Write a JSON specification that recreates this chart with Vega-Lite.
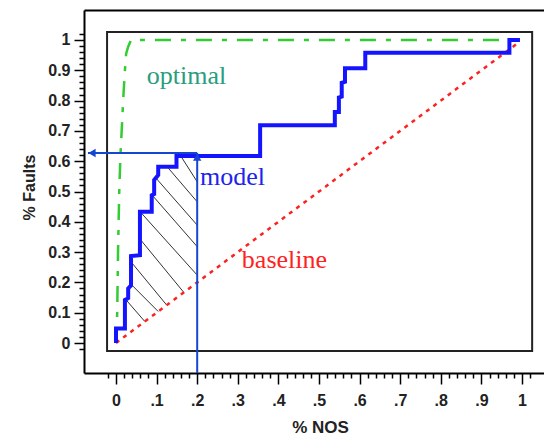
{
  "$schema": "https://vega.github.io/schema/vega-lite/v6.json",
  "autosize": "none",
  "width": 460,
  "height": 363,
  "padding": {"left": 84, "top": 10, "right": 0, "bottom": 62},
  "background": "white",
  "config": {"view": {"stroke": null}},
  "datasets": {
    "box": [{"x": -0.022, "x2": 1.025, "y": -0.026, "y2": 1.026}],
    "optimal": [
      {"i": 0, "x": 0, "y": 0}, {"i": 1, "x": 0.003, "y": 0.1}, {"i": 2, "x": 0.005, "y": 0.3},
      {"i": 3, "x": 0.008, "y": 0.5}, {"i": 4, "x": 0.011, "y": 0.62}, {"i": 5, "x": 0.014, "y": 0.7},
      {"i": 6, "x": 0.018, "y": 0.81}, {"i": 7, "x": 0.022, "y": 0.9}, {"i": 8, "x": 0.025, "y": 0.955},
      {"i": 9, "x": 0.03, "y": 0.978}, {"i": 10, "x": 0.037, "y": 1.0}, {"i": 11, "x": 0.995, "y": 1.0}
    ],
    "model": [
      {"i": 0, "x": 0, "y": 0}, {"i": 1, "x": 0, "y": 0.048}, {"i": 2, "x": 0.022, "y": 0.048},
      {"i": 3, "x": 0.022, "y": 0.142}, {"i": 4, "x": 0.03, "y": 0.148}, {"i": 5, "x": 0.03, "y": 0.18},
      {"i": 6, "x": 0.037, "y": 0.19}, {"i": 7, "x": 0.037, "y": 0.287}, {"i": 8, "x": 0.059, "y": 0.29},
      {"i": 9, "x": 0.059, "y": 0.433}, {"i": 10, "x": 0.088, "y": 0.433}, {"i": 11, "x": 0.088, "y": 0.488},
      {"i": 12, "x": 0.094, "y": 0.492}, {"i": 13, "x": 0.094, "y": 0.538}, {"i": 14, "x": 0.104, "y": 0.554},
      {"i": 15, "x": 0.104, "y": 0.582}, {"i": 16, "x": 0.149, "y": 0.582}, {"i": 17, "x": 0.149, "y": 0.617},
      {"i": 18, "x": 0.355, "y": 0.617}, {"i": 19, "x": 0.355, "y": 0.719}, {"i": 20, "x": 0.539, "y": 0.719},
      {"i": 21, "x": 0.539, "y": 0.762}, {"i": 22, "x": 0.549, "y": 0.762}, {"i": 23, "x": 0.549, "y": 0.81},
      {"i": 24, "x": 0.556, "y": 0.813}, {"i": 25, "x": 0.556, "y": 0.859}, {"i": 26, "x": 0.564, "y": 0.862},
      {"i": 27, "x": 0.564, "y": 0.907}, {"i": 28, "x": 0.614, "y": 0.907}, {"i": 29, "x": 0.614, "y": 0.958},
      {"i": 30, "x": 0.969, "y": 0.958}, {"i": 31, "x": 0.969, "y": 1.0}, {"i": 32, "x": 0.995, "y": 1.0}
    ],
    "baseline": [{"x": 0, "y": 0}, {"x": 0.99, "y": 0.99}],
    "hatch": [
      {"x": 0.162, "y": 0.612, "x2": 0.2, "y2": 0.532},
      {"x": 0.129, "y": 0.577, "x2": 0.2, "y2": 0.466},
      {"x": 0.098, "y": 0.545, "x2": 0.2, "y2": 0.389},
      {"x": 0.091, "y": 0.485, "x2": 0.2, "y2": 0.318},
      {"x": 0.063, "y": 0.428, "x2": 0.2, "y2": 0.224},
      {"x": 0.061, "y": 0.34, "x2": 0.167, "y2": 0.167},
      {"x": 0.04, "y": 0.263, "x2": 0.125, "y2": 0.125},
      {"x": 0.04, "y": 0.19, "x2": 0.104, "y2": 0.104},
      {"x": 0.025, "y": 0.142, "x2": 0.071, "y2": 0.071}
    ],
    "arrows": [
      {"dir": "left", "x": 0.2, "y": 0.627, "x2": -0.069, "y2": 0.627},
      {"dir": "up", "x": 0.2, "y": -0.099, "x2": 0.2, "y2": 0.627}
    ],
    "labels": [
      {"series": "optimal", "x": 0.076, "y": 0.855, "text": "optimal"},
      {"series": "model", "x": 0.207, "y": 0.521, "text": "model"},
      {"series": "baseline", "x": 0.31, "y": 0.2475, "text": "baseline"}
    ]
  },
  "resolve": {"axis": {"x": "independent", "y": "independent"}},
  "layer": [
    {
      "data": {"name": "box"},
      "mark": {"type": "rect", "fill": null, "stroke": "#222222", "strokeWidth": 2},
      "encoding": {
        "x": {"field": "x", "type": "quantitative",
          "scale": {"domain": [-0.0788, 1.0542], "nice": false, "zero": false},
          "axis": {"orient": "bottom", "values": [0, 0.1, 0.2, 0.3, 0.4, 0.5, 0.6, 0.7, 0.8, 0.9, 1],
            "labelExpr": "datum.value < 0.05 ? '0' : datum.value > 0.95 ? '1' : substring(format(datum.value, '.1f'), 1)",
            "grid": false, "domainColor": "black", "domainWidth": 2, "tickColor": "black", "tickWidth": 1.5, "tickSize": 11,
            "labelFont": "Liberation Sans", "labelFontSize": 16, "labelFontWeight": "bold", "labelColor": "#222222", "labelPadding": 8,
            "labelFlush": false, "labelOverlap": false,
            "title": "% NOS", "titleFont": "Liberation Sans", "titleFontSize": 17, "titleFontWeight": "bold", "titleColor": "#222222",
            "titleX": 236, "titleY": 54, "titleAlign": "center", "titleBaseline": "middle"}},
        "x2": {"field": "x2"},
        "y": {"field": "y", "type": "quantitative",
          "scale": {"domain": [-0.099, 1.099], "nice": false, "zero": false},
          "axis": {"orient": "left", "values": [0, 0.1, 0.2, 0.3, 0.4, 0.5, 0.6, 0.7, 0.8, 0.9, 1],
            "format": ".1~f",
            "grid": false, "domainColor": "black", "domainWidth": 2, "tickColor": "black", "tickWidth": 1.5, "tickSize": 10,
            "labelFont": "Liberation Sans", "labelFontSize": 16, "labelFontWeight": "bold", "labelColor": "#222222", "labelPadding": 4,
            "labelFlush": false, "labelOverlap": false,
            "title": "% Faults", "titleFont": "Liberation Sans", "titleFontSize": 16, "titleFontWeight": "bold", "titleColor": "#222222",
            "titleX": -55, "titleY": 177, "titleAngle": -90, "titleAlign": "center", "titleBaseline": "middle"}},
        "y2": {"field": "y2"}
      }
    },
    {
      "data": {"name": "hatch"},
      "mark": {"type": "rule", "stroke": "#333333", "strokeWidth": 1},
      "encoding": {
        "x": {"field": "x", "type": "quantitative", "axis": null},
        "y": {"field": "y", "type": "quantitative", "axis": null},
        "x2": {"field": "x2"},
        "y2": {"field": "y2"}
      }
    },
    {
      "data": {"name": "baseline"},
      "mark": {"type": "line", "stroke": "#ff2020", "strokeWidth": 2.5, "strokeDash": [4, 5]},
      "encoding": {
        "x": {"field": "x", "type": "quantitative",
          "axis": {"orient": "bottom", "values": [-0.02, 0.02, 0.04, 0.06, 0.08, 0.12, 0.14, 0.16, 0.18, 0.22, 0.24, 0.26, 0.28, 0.32, 0.34, 0.36, 0.38, 0.42, 0.44, 0.46, 0.48, 0.52, 0.54, 0.56, 0.58, 0.62, 0.64, 0.66, 0.68, 0.72, 0.74, 0.76, 0.78, 0.82, 0.84, 0.86, 0.88, 0.92, 0.94, 0.96, 0.98, 1.02],
            "labels": false, "domain": false, "grid": false, "title": null, "tickColor": "black", "tickWidth": 1.5, "tickSize": 5}},
        "y": {"field": "y", "type": "quantitative",
          "axis": {"orient": "left", "values": [-0.02, 0.02, 0.04, 0.06, 0.08, 0.12, 0.14, 0.16, 0.18, 0.22, 0.24, 0.26, 0.28, 0.32, 0.34, 0.36, 0.38, 0.42, 0.44, 0.46, 0.48, 0.52, 0.54, 0.56, 0.58, 0.62, 0.64, 0.66, 0.68, 0.72, 0.74, 0.76, 0.78, 0.82, 0.84, 0.86, 0.88, 0.92, 0.94, 0.96, 0.98, 1.02],
            "labels": false, "domain": false, "grid": false, "title": null, "tickColor": "black", "tickWidth": 1.5, "tickSize": 5}}
      }
    },
    {
      "data": {"name": "optimal"},
      "mark": {"type": "line", "stroke": "#33cc33", "strokeWidth": 2.5, "strokeDash": [16, 10, 5, 10]},
      "encoding": {
        "x": {"field": "x", "type": "quantitative",
          "axis": {"orient": "top", "values": [], "ticks": false, "labels": false, "grid": false, "title": null, "domain": true, "domainColor": "black", "domainWidth": 2}},
        "y": {"field": "y", "type": "quantitative", "axis": null},
        "order": {"field": "i", "type": "quantitative"}
      }
    },
    {
      "data": {"name": "model"},
      "mark": {"type": "line", "stroke": "#1414ff", "strokeWidth": 4, "strokeJoin": "miter"},
      "encoding": {
        "x": {"field": "x", "type": "quantitative", "axis": null},
        "y": {"field": "y", "type": "quantitative", "axis": null},
        "order": {"field": "i", "type": "quantitative"}
      }
    },
    {
      "data": {"name": "arrows"},
      "mark": {"type": "rule", "stroke": "#1546d0", "strokeWidth": 2},
      "encoding": {
        "x": {"field": "x", "type": "quantitative", "axis": null},
        "y": {"field": "y", "type": "quantitative", "axis": null},
        "x2": {"field": "x2"},
        "y2": {"field": "y2"}
      }
    },
    {
      "data": {"name": "arrows"},
      "transform": [{"filter": "datum.dir == 'left'"}],
      "mark": {"type": "point", "shape": "triangle-left", "filled": true, "fill": "#1546d0", "stroke": null, "size": 70, "opacity": 1, "xOffset": 4},
      "encoding": {
        "x": {"field": "x2", "type": "quantitative", "axis": null},
        "y": {"field": "y2", "type": "quantitative", "axis": null}
      }
    },
    {
      "data": {"name": "arrows"},
      "transform": [{"filter": "datum.dir == 'up'"}],
      "mark": {"type": "point", "shape": "triangle-up", "filled": true, "fill": "#1546d0", "stroke": null, "size": 70, "opacity": 1, "yOffset": 4},
      "encoding": {
        "x": {"field": "x2", "type": "quantitative", "axis": null},
        "y": {"field": "y2", "type": "quantitative", "axis": null}
      }
    },
    {
      "data": {"name": "labels"},
      "mark": {"type": "text", "font": "Liberation Serif", "fontSize": 26, "align": "left", "baseline": "alphabetic"},
      "encoding": {
        "x": {"field": "x", "type": "quantitative", "axis": null},
        "y": {"field": "y", "type": "quantitative", "axis": null},
        "text": {"field": "text"},
        "color": {"field": "series", "type": "nominal",
          "scale": {"domain": ["optimal", "model", "baseline"], "range": ["#2a9d7f", "#2222ee", "#ff2222"]},
          "legend": null}
      }
    }
  ]
}
